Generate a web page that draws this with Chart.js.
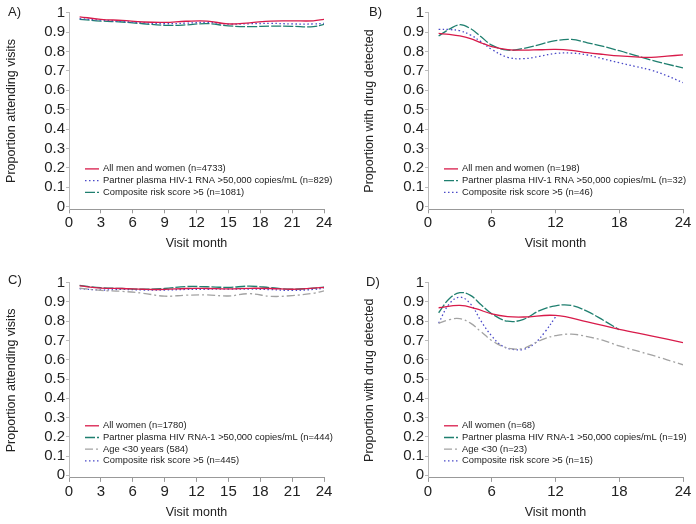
<!DOCTYPE html>
<html>
<head>
<meta charset="utf-8">
<script src="https://cdn.jsdelivr.net/npm/chart.js@4.4.1/dist/chart.umd.min.js"></script>
<style>
  html, body { margin: 0; padding: 0; background: #fff; }
  #wrap { position: relative; width: 696px; height: 524px; }
  .panel { position: absolute; width: 348px; height: 262px; }
</style>
</head>
<body>
<div id="wrap">
  <div class="panel" style="left:0;top:0"><canvas id="chartA" width="348" height="262"></canvas></div>
  <div class="panel" style="left:348px;top:0"><canvas id="chartB" width="348" height="262"></canvas></div>
  <div class="panel" style="left:0;top:262px"><canvas id="chartC" width="348" height="262"></canvas></div>
  <div class="panel" style="left:348px;top:262px"><canvas id="chartD" width="348" height="262"></canvas></div>
</div>
<script>
// tick labels
const yTicks = [0, 0.1, 0.2, 0.3, 0.4, 0.5, 0.6, 0.7, 0.8, 0.9, 1];
const xTicksLeft = [0, 3, 6, 9, 12, 15, 18, 21, 24];
const xTicksRight = [0, 6, 12, 18, 24];

// A) visit attendance, men and women
const monthsA = [1, 3, 5, 7, 9, 11, 13, 15, 17, 19, 21, 23, 24];
const allA = [0.979, 0.966, 0.960, 0.952, 0.950, 0.956, 0.957, 0.942, 0.948, 0.957, 0.958, 0.958, 0.966];
const partnerA = [0.969, 0.962, 0.955, 0.948, 0.943, 0.946, 0.950, 0.941, 0.943, 0.945, 0.942, 0.942, 0.945];
const riskA = [0.966, 0.957, 0.952, 0.943, 0.935, 0.937, 0.944, 0.932, 0.928, 0.931, 0.930, 0.928, 0.940];

// B) drug detected, men and women
const monthsB = [1, 2, 3, 4, 5, 6, 7.5, 9, 10.5, 12, 13.5, 15, 16.5, 18, 19.5, 21, 22.5, 24];
const allB = [0.893, 0.888, 0.880, 0.866, 0.845, 0.825, 0.810, 0.807, 0.809, 0.811, 0.806, 0.794, 0.785, 0.777, 0.772, 0.770, 0.776, 0.783];
const partnerB = [0.880, 0.915, 0.938, 0.918, 0.876, 0.833, 0.807, 0.816, 0.836, 0.856, 0.862, 0.845, 0.826, 0.804, 0.780, 0.756, 0.735, 0.715];
const riskB = [0.914, 0.913, 0.907, 0.885, 0.850, 0.811, 0.770, 0.763, 0.775, 0.790, 0.792, 0.782, 0.762, 0.742, 0.723, 0.704, 0.675, 0.639];

// C) visit attendance, women
const monthsC = [1, 3, 5, 7, 9, 11, 13, 15, 17, 19, 21, 23, 24];
const allC = [0.983, 0.972, 0.970, 0.966, 0.965, 0.970, 0.970, 0.968, 0.971, 0.970, 0.966, 0.972, 0.976];
const partnerC = [0.986, 0.974, 0.970, 0.966, 0.970, 0.980, 0.979, 0.976, 0.982, 0.974, 0.966, 0.972, 0.977];
const ageC = [0.972, 0.960, 0.955, 0.945, 0.930, 0.935, 0.937, 0.931, 0.943, 0.929, 0.933, 0.945, 0.958];
const riskC = [0.969, 0.962, 0.965, 0.962, 0.962, 0.965, 0.966, 0.967, 0.967, 0.964, 0.960, 0.965, 0.972];

// D) drug detected, women
const monthsAllD = [1, 3, 4.5, 6, 7.5, 9, 12, 15, 18, 21, 24];
const allD = [0.870, 0.882, 0.865, 0.838, 0.824, 0.822, 0.830, 0.797, 0.758, 0.724, 0.689];
const monthsPartnerD = [1, 2, 3, 4, 5, 6, 7.5, 9, 10.5, 12, 13.5, 15, 16.5, 18];
const partnerD = [0.844, 0.917, 0.948, 0.934, 0.885, 0.839, 0.800, 0.810, 0.855, 0.880, 0.882, 0.851, 0.805, 0.756];
const monthsAgeD = [1, 2, 3, 4, 5, 6, 7, 8, 9, 10, 11, 12, 13.5, 15, 16.5, 18, 21, 24];
const ageD = [0.789, 0.808, 0.813, 0.790, 0.745, 0.700, 0.670, 0.656, 0.660, 0.685, 0.710, 0.725, 0.733, 0.720, 0.700, 0.672, 0.625, 0.574];
const monthsRiskD = [1, 2, 3, 4, 5, 6, 7, 8, 9, 10, 11, 12];
const riskD = [0.790, 0.890, 0.925, 0.890, 0.800, 0.723, 0.671, 0.654, 0.654, 0.683, 0.744, 0.822];

const FONT = '"Liberation Sans", Arial, sans-serif';
const RED = '#d81b4a', TEAL = '#1f7f6f', BLUE = '#4a4ac8', GREY = '#a3a3a3';

function pts(xs, ys) {
  return xs.map((x, i) => ({ x: x, y: ys[i] }));
}

function line(label, xs, ys, color, dash) {
  return {
    label: label,
    data: pts(xs, ys),
    borderColor: color,
    borderWidth: 1.3,
    borderDash: dash,
    pointRadius: 0,
    tension: 0.4,
    fill: false
  };
}

// legend drawn inside plot, bottom left
const insideLegend = {
  id: 'insideLegend',
  afterDraw(chart) {
    const { ctx, chartArea } = chart;
    const sets = chart.data.datasets;
    ctx.save();
    ctx.font = '9.4px ' + FONT;
    ctx.textBaseline = 'middle';
    sets.forEach((ds, i) => {
      const y = chartArea.bottom - 17 - (sets.length - 1 - i) * 11.7;
      ctx.strokeStyle = ds.borderColor;
      ctx.lineWidth = ds.borderWidth;
      ctx.setLineDash(ds.borderDash || []);
      ctx.beginPath();
      ctx.moveTo(chartArea.left + 16, y);
      ctx.lineTo(chartArea.left + 30, y);
      ctx.stroke();
      ctx.setLineDash([]);
      ctx.fillStyle = '#222';
      ctx.fillText(ds.label, chartArea.left + 34, y);
    });
    ctx.restore();
  }
};

const panelLabel = {
  id: 'panelLabel',
  afterDraw(chart, args, opts) {
    const ctx = chart.ctx;
    ctx.save();
    ctx.font = '13px ' + FONT;
    ctx.fillStyle = '#222';
    ctx.textBaseline = 'middle';
    ctx.fillText(opts.text, opts.x, opts.y);
    ctx.restore();
  }
};

function makeChart(id, cfg) {
  const ctx = document.getElementById(id).getContext('2d');
  return new Chart(ctx, {
    type: 'line',
    data: { datasets: cfg.datasets },
    options: {
      responsive: false,
      animation: false,
      layout: { padding: { top: cfg.padTop, right: cfg.padRight, left: 0, bottom: 0 } },
      scales: {
        x: {
          type: 'linear',
          min: 0,
          max: 24,
          afterBuildTicks: s => { s.ticks = cfg.xTicks.map(v => ({ value: v })); },
          afterFit: s => { s.height = cfg.xHeight; },
          ticks: { color: '#222', font: { family: FONT, size: 15 }, padding: 1, maxRotation: 0, autoSkip: false },
          grid: { drawOnChartArea: false, drawTicks: true, tickLength: 4, color: '#999' },
          border: { color: '#999', width: 1 },
          title: { display: true, text: 'Visit month', color: '#222', font: { family: FONT, size: 12.5 }, padding: { top: 0, bottom: cfg.xTitlePad } }
        },
        y: {
          min: -0.0134,
          max: 1,
          afterBuildTicks: s => { s.ticks = yTicks.map(v => ({ value: v })); },
          afterFit: s => { s.width = cfg.yWidth; },
          ticks: { color: '#222', font: { family: FONT, size: 15 }, padding: 1, autoSkip: false, callback: v => String(+v.toFixed(1)) },
          grid: { drawOnChartArea: false, drawTicks: true, tickLength: 3, color: '#bbb' },
          border: { color: '#bbb', width: 1, dash: [1, 1] },
          title: { display: true, text: cfg.yTitle, color: '#222', font: { family: FONT, size: 12.5 }, padding: { top: cfg.yTitlePad, bottom: 0 } }
        }
      },
      plugins: {
        legend: { display: false },
        tooltip: { enabled: false },
        panelLabel: cfg.label
      }
    },
    plugins: [insideLegend, panelLabel]
  });
}

document.addEventListener('DOMContentLoaded', () => {
  makeChart('chartA', {
    datasets: [
      line('All men and women (n=4733)', monthsA, allA, RED, []),
      line('Partner plasma HIV-1 RNA >50,000 copies/mL (n=829)', monthsA, partnerA, BLUE, [1.5, 2.5]),
      line('Composite risk score >5 (n=1081)', monthsA, riskA, TEAL, [10, 2])
    ],
    xTicks: xTicksLeft, yTitle: 'Proportion attending visits',
    padTop: 12.7, padRight: 24, yWidth: 69, xHeight: 52.7, xTitlePad: 11, yTitlePad: 4.5,
    label: { text: 'A)', x: 8, y: 12 }
  });

  makeChart('chartB', {
    datasets: [
      line('All men and women (n=198)', monthsB, allB, RED, []),
      line('Partner plasma HIV-1 RNA >50,000 copies/mL (n=32)', monthsB, partnerB, TEAL, [10, 2]),
      line('Composite risk score >5 (n=46)', monthsB, riskB, BLUE, [1.5, 2.5])
    ],
    xTicks: xTicksRight, yTitle: 'Proportion with drug detected',
    padTop: 12.7, padRight: 13, yWidth: 80, xHeight: 52.7, xTitlePad: 11, yTitlePad: 14,
    label: { text: 'B)', x: 21, y: 12.7 }
  });

  makeChart('chartC', {
    datasets: [
      line('All women (n=1780)', monthsC, allC, RED, []),
      line('Partner plasma HIV RNA-1 >50,000 copies/mL (n=444)', monthsC, partnerC, TEAL, [10, 2]),
      line('Age <30 years (584)', monthsC, ageC, GREY, [8, 3, 2, 3]),
      line('Composite risk score >5 (n=445)', monthsC, riskC, BLUE, [1.5, 2.5])
    ],
    xTicks: xTicksLeft, yTitle: 'Proportion attending visits',
    padTop: 20.7, padRight: 24, yWidth: 69, xHeight: 46.1, xTitlePad: 3.5, yTitlePad: 4.5,
    label: { text: 'C)', x: 8, y: 18.3 }
  });

  makeChart('chartD', {
    datasets: [
      line('All women (n=68)', monthsAllD, allD, RED, []),
      line('Partner plasma HIV RNA-1 >50,000 copies/mL (n=19)', monthsPartnerD, partnerD, TEAL, [10, 2]),
      line('Age <30 (n=23)', monthsAgeD, ageD, GREY, [8, 3, 2, 3]),
      line('Composite risk score >5 (n=15)', monthsRiskD, riskD, BLUE, [1.5, 2.5])
    ],
    xTicks: xTicksRight, yTitle: 'Proportion with drug detected',
    padTop: 20.7, padRight: 13, yWidth: 80, xHeight: 46.1, xTitlePad: 3.5, yTitlePad: 14,
    label: { text: 'D)', x: 18, y: 20.7 }
  });
});
</script>
</body>
</html>
